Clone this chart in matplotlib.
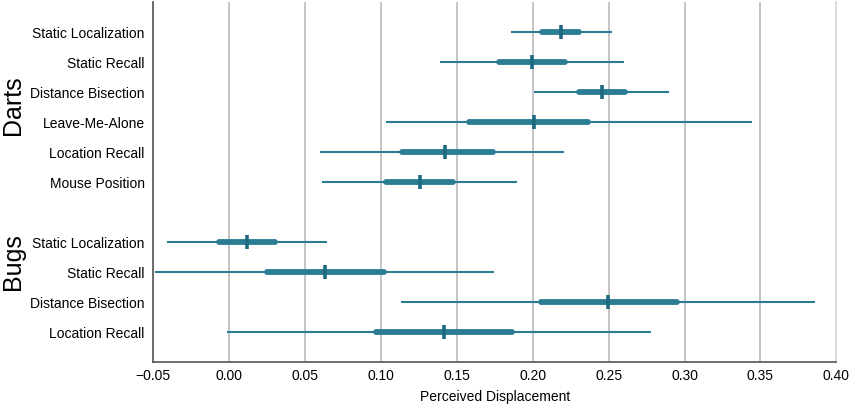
import numpy as np
import matplotlib.pyplot as plt

plt.rcParams['font.family'] = ['Liberation Sans', 'DejaVu Sans']

#################
# data
labels = ['Static Localization', 'Static Recall', 'Distance Bisection', 'Leave-Me-Alone',
          'Location Recall', 'Mouse Position', '',
          'Static Localization', 'Static Recall', 'Distance Bisection', 'Location Recall']
means = [0.2185, 0.1994, 0.2457, 0.2011, 0.1421, 0.1256, np.nan,
         0.0119, 0.0632, 0.2495, 0.1414]
thin_lo = [0.1856, 0.1390, 0.2011, 0.1032, 0.0599, 0.0615, np.nan,
           -0.0406, -0.0487, 0.1133, -0.0011]
thin_hi = [0.2521, 0.2602, 0.2897, 0.3443, 0.2209, 0.1899, np.nan,
           0.0644, 0.1748, 0.3858, 0.2780]
thick_lo = [0.2064, 0.1779, 0.2308, 0.1581, 0.1142, 0.1032, np.nan,
            -0.0066, 0.0248, 0.2055, 0.0966]
thick_hi = [0.2308, 0.2211, 0.2611, 0.2367, 0.1741, 0.1478, np.nan,
            0.0305, 0.1019, 0.2949, 0.1866]
groups = ['Darts', 'Bugs']
xticks = [-0.05, 0.00, 0.05, 0.10, 0.15, 0.20, 0.25, 0.30, 0.35, 0.40]
#################

col = '#2b7d94'
dark = '#1d6a80'

fig = plt.figure(figsize=(8.5, 4.05), dpi=100)
ax = fig.add_axes([0.18, 0.106, 0.804, 0.889])

y = np.arange(len(labels))
for i in y:
    if np.isnan(means[i]):
        continue
    ax.plot([thin_lo[i], thin_hi[i]], [i, i], color=col, lw=1.5, solid_capstyle='butt', zorder=3)
    ax.plot([thick_lo[i], thick_hi[i]], [i, i], color=col, lw=4.2, solid_capstyle='round', zorder=4)
    ax.plot([means[i], means[i]], [i - 0.23, i + 0.23], color=dark, lw=2.6, solid_capstyle='butt', zorder=5)

ax.set_xlim(-0.05, 0.40)
ax.set_ylim(11, -1)
ax.set_xticks(xticks)
ax.set_xticklabels(['%.2f' % t if t >= 0 else '\u22120.05' for t in xticks], fontsize=10)
ax.set_yticks(y)
ax.set_yticklabels(labels, fontsize=10)
ax.tick_params(axis='y', length=0, pad=6)
ax.tick_params(axis='x', length=0, pad=5)
ax.grid(axis='x', color='#c4c4c4', lw=1.4, zorder=0)
ax.set_axisbelow(True)
ax.spines['top'].set_visible(False)
ax.spines['right'].set_color('#dddddd')
ax.spines['right'].set_linewidth(1.4)
for s in ['left', 'bottom']:
    ax.spines[s].set_color('#555555')
    ax.spines[s].set_linewidth(1.2)
ax.set_xlabel('Perceived Displacement', fontsize=10, labelpad=5)

fig.text(0.015, 1 - 105 / 405, groups[0], rotation=90, fontsize=18, ha='center', va='center')
fig.text(0.015, 1 - 262 / 405, groups[1], rotation=90, fontsize=18, ha='center', va='center')

plt.savefig('out.png', dpi=100)
